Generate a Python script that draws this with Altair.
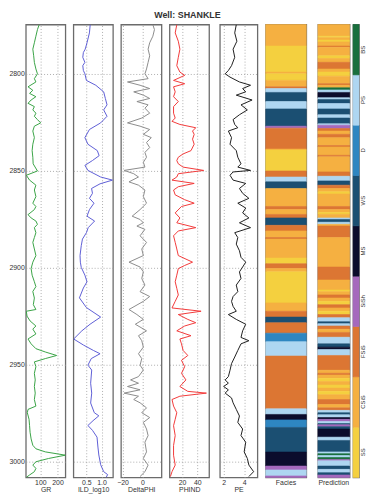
import altair as alt
import pandas as pd

TOP, BOT = 2774.6, 3008.1
H = 458
depth_ticks = [2800, 2850, 2900, 2950, 3000]

facies_labels = ['SS', 'CSiS', 'FSiS', 'SiSh', 'MS', 'WS', 'D', 'PS', 'BS']
facies_colors = ['#F4D03F', '#F5B041', '#DC7633', '#A569BD', '#0B0C2C',
                 '#1B4F72', '#2E86C1', '#AED6F1', '#196F3D']

gr_depth = [2774.7, 2777.2, 2780.6, 2784.0, 2787.3, 2790.7, 2794.1, 2797.5,
            2800.0, 2802.5, 2804.2, 2806.7, 2808.5, 2810.1, 2811.8, 2813.5, 2815.2, 2816.9,
            2818.6, 2820.3, 2821.9, 2823.6, 2825.3, 2827.0, 2829.5, 2832.9, 2836.3, 2839.6,
            2843.0, 2846.4, 2850.1, 2852.3, 2854.8, 2857.4, 2859.9, 2863.3, 2866.7, 2868.4,
            2870.0, 2872.6, 2874.3, 2875.9, 2877.6, 2879.3, 2881.9, 2884.4, 2886.9, 2890.3,
            2893.7, 2897.1, 2900.4, 2903.8, 2907.2, 2909.7, 2912.2, 2915.6, 2919.0, 2921.5,
            2922.4, 2924.9, 2927.4, 2930.0, 2931.6, 2934.1, 2936.7, 2939.2, 2941.7, 2943.4,
            2945.2, 2946.8, 2948.5, 2951.0, 2954.4, 2957.8, 2961.2, 2964.6, 2967.9, 2971.3,
            2973.0, 2974.7, 2978.1, 2981.4, 2984.8, 2988.2, 2991.5, 2993.3, 2994.9, 2996.6,
            2998.3, 3000.0, 3001.7, 3003.4, 3005.1, 3006.8, 3008.0]
gr_vals = [93, 83, 74, 65, 56, 61, 65, 74,
           83, 65, 74, 28, 56, 37, 74, 46, 28, 65,
           56, 74, 65, 83, 102, 65, 56, 65, 56, 52,
           56, 58, 83, 18, 37, 74, 65, 74, 56, 74,
           65, 28, 46, 74, 83, 65, 74, 65, 56, 65,
           74, 56, 46, 52, 65, 74, 56, 65, 59, 74,
           18, 22, 40, 74, 56, 74, 28, 46, 74, 129,
           195, 129, 65, 74, 65, 70, 65, 70, 65, 74,
           28, 24, 34, 37, 40, 46, 56, 74, 129, 246,
           148, 74, 56, 74, 65, 37, 18]

ild_depth = [2774.7, 2778.9, 2784.0, 2787.3, 2789.0, 2791.5, 2794.1, 2795.8, 2798.3, 2800.0,
             2803.4, 2805.9, 2809.3, 2812.7, 2816.0, 2818.6, 2821.9, 2825.3, 2828.7, 2832.9,
             2836.3, 2839.6, 2842.2, 2844.7, 2847.2, 2849.8, 2853.2, 2854.8, 2856.7, 2859.1,
             2861.6, 2864.2, 2866.7, 2870.0, 2873.4, 2875.9, 2879.3, 2881.9, 2885.2, 2888.6,
             2893.7, 2897.1, 2899.8, 2903.8, 2907.2, 2910.4, 2915.5, 2920.5, 2925.4, 2929.1,
             2932.5, 2936.7, 2939.8, 2942.6, 2944.3, 2946.8, 2950.2, 2952.7, 2959.5, 2964.6,
             2969.7, 2974.7, 2976.3, 2978.8, 2981.3, 2983.8, 2987.3, 2992.4, 2996.5, 3001.5,
             3005.1, 3006.6, 3008.1]
ild_vals = [0.625, 0.60, 0.52, 0.46, 0.40, 0.38, 0.45, 0.38, 0.40, 0.45,
            0.50, 0.81, 1.07, 1.125, 1.18, 1.07, 1.18, 0.97, 0.60, 0.45,
            0.55, 0.86, 0.92, 0.70, 0.45, 0.55, 0.97, 1.36, 0.95, 0.67,
            0.70, 0.60, 0.75, 0.60, 0.52, 0.77, 0.56, 0.50, 0.37, 0.33,
            0.29, 0.30, 0.33, 0.45, 0.52, 0.40, 0.27, 0.50, 0.97, 0.62,
            0.35, 0.08, 0.40, 0.73, 0.95, 0.66, 0.55, 0.675, 0.64, 0.675,
            0.64, 0.76, 0.91, 0.72, 0.55, 0.70, 0.85, 0.88, 0.91, 0.97,
            1.07, 1.20, 1.15]

dphi_depth = [2774.7, 2777.2, 2780.6, 2784.0, 2787.3, 2790.7, 2794.1, 2797.5, 2800.0, 2802.5,
              2804.2, 2805.9, 2807.6, 2809.3, 2811.0, 2812.7, 2814.3, 2816.0, 2817.7, 2820.3,
              2822.8, 2825.3, 2827.0, 2828.7, 2831.2, 2832.9, 2835.4, 2838.0, 2840.5, 2843.0,
              2845.6, 2848.1, 2849.8, 2851.5, 2853.2, 2855.7, 2857.4, 2859.9, 2863.3, 2866.7,
              2870.0, 2873.4, 2875.1, 2876.8, 2878.5, 2880.2, 2883.5, 2886.9, 2890.3, 2893.7,
              2897.1, 2899.6, 2902.1, 2905.5, 2908.9, 2912.3, 2914.8, 2917.3, 2921.5, 2924.1,
              2926.6, 2929.1, 2932.5, 2935.0, 2937.6, 2940.9, 2944.3, 2946.8, 2950.2, 2952.7,
              2956.1, 2957.8, 2959.5, 2961.2, 2962.9, 2964.6, 2966.2, 2967.9, 2969.6, 2972.2,
              2974.7, 2977.2, 2979.7, 2983.1, 2986.5, 2989.9, 2994.9, 2998.3, 3001.7, 3005.1,
              3007.6]
dphi_vals = [10.6, 12.2, 10.6, 7.4, 5.8, 7.4, 5.8, 4.2, 2.6, 5.8,
             -15.0, -2.3, 7.4, -8.7, 1.0, 7.4, -5.5, 5.8, 2.6, 7.4,
             -0.6, -15.0, -2.3, 7.4, 1.0, 9.0, 4.2, 7.4, 2.6, 4.2,
             1.0, 2.6, -18.4, -8.7, -3.9, -13.5, -3.9, 2.6, 1.0, 4.2,
             -2.3, -10.3, -2.3, 1.0, -5.5, 2.6, -2.3, 4.2, -0.6, 1.0,
             -13.5, -2.3, 1.0, -0.6, 2.6, -2.3, 7.4, 1.0, -13.5, -5.5,
             1.0, -7.1, 4.2, -3.9, -0.6, 1.0, -3.9, -0.6, -2.3, 1.0,
             -3.9, -11.9, -3.9, -15.0, -2.3, -18.4, -3.9, -8.7, -2.3, 4.2,
             -0.6, 7.4, 1.0, 4.2, 5.8, 2.6, 4.2, 1.0, 5.8, 2.6,
             -2.3]

phind_depth = [2774.7, 2778.9, 2783.2, 2787.3, 2791.5, 2795.8, 2799.1, 2800.8, 2803.4, 2805.1,
               2806.7, 2809.3, 2811.8, 2814.3, 2816.9, 2820.3, 2822.8, 2824.5, 2826.1, 2827.8,
               2829.5, 2831.2, 2833.7, 2836.3, 2839.6, 2841.3, 2843.0, 2844.7, 2846.4, 2848.1,
               2849.8, 2851.5, 2853.2, 2854.8, 2856.5, 2858.2, 2859.9, 2862.4, 2864.9, 2866.7,
               2868.4, 2871.7, 2874.3, 2876.8, 2879.3, 2881.0, 2883.5, 2886.9, 2890.3, 2893.7,
               2897.1, 2898.8, 2900.4, 2903.8, 2907.2, 2910.6, 2914.0, 2917.3, 2920.7, 2922.4,
               2924.1, 2926.6, 2928.3, 2930.0, 2932.5, 2935.0, 2936.7, 2939.2, 2942.6, 2945.2,
               2947.7, 2951.0, 2954.4, 2957.8, 2961.2, 2963.7, 2964.6, 2966.2, 2967.9, 2971.3,
               2974.7, 2978.1, 2981.4, 2986.5, 2991.6, 2996.6, 3001.7, 3005.1, 3007.6]
phind_vals = [13, 10.9, 15, 17.1, 15, 13, 17.1, 23.4, 8.75, 23.4,
              8.75, 10.9, 8.75, 15, 8.75, 8.75, 10.9, 6.7, 17.1, 38,
              33.75, 35.9, 33.75, 35.9, 31.7, 21.3, 15, 13, 15, 21.3,
              48.4, 15, 13, 6.7, 35.9, 15, 8.75, 10.9, 23.4, 35.9,
              19.2, 10.9, 17.1, 13, 38, 15, 8.75, 10.9, 13, 15,
              33.75, 23.4, 15, 13, 10.9, 13, 15, 10.9, 6.7, 45,
              15, 27.5, 38, 23.4, 13, 31.7, 17.1, 19.2, 21.3, 27.5,
              19.2, 23.4, 19.2, 25, 17.1, 27.5, 52, 17.1, 6.7, 8.75,
              13, 10.9, 8.75, 10.9, 8.75, 8.75, 10.9, 6.7, 4.6]

pe_depth = [2774.7, 2778.9, 2783.2, 2787.3, 2791.5, 2795.8, 2798.3, 2800.0, 2801.7, 2804.2,
            2805.9, 2807.6, 2809.3, 2811.0, 2813.5, 2816.0, 2818.6, 2821.1, 2823.6, 2826.1,
            2827.8, 2829.5, 2832.9, 2836.3, 2839.6, 2843.0, 2846.4, 2848.1, 2849.8, 2850.6,
            2852.3, 2854.8, 2856.5, 2859.1, 2861.6, 2864.2, 2866.7, 2869.2, 2871.7, 2874.3,
            2876.8, 2879.3, 2881.9, 2884.4, 2887.8, 2891.2, 2894.6, 2897.1, 2899.6, 2902.1,
            2905.5, 2908.9, 2912.3, 2914.8, 2917.3, 2919.9, 2922.4, 2924.1, 2926.6, 2929.1,
            2932.5, 2935.9, 2937.6, 2939.2, 2942.6, 2946.0, 2949.4, 2952.8, 2956.1, 2957.8,
            2959.5, 2961.2, 2962.9, 2964.6, 2967.1, 2969.6, 2973.0, 2976.4, 2979.7, 2983.1,
            2986.5, 2989.9, 2994.9, 2998.3, 3001.7, 3005.1, 3007.6]
pe_vals = [3.23, 3.08, 3.29, 2.92, 3.08, 2.77, 2.46, 2.15, 2.62, 3.54,
           4.62, 3.85, 4.15, 3.23, 4.77, 3.69, 4.31, 3.54, 2.92, 3.08,
           3.38, 2.46, 2.77, 2.62, 3.23, 3.38, 3.69, 3.38, 4.62, 2.92,
           2.62, 2.92, 4.15, 3.54, 3.85, 4.46, 3.38, 4.15, 3.85, 4.46,
           3.54, 4.62, 3.08, 3.38, 3.23, 3.54, 3.69, 4.15, 3.85, 3.54,
           3.69, 3.23, 3.38, 2.92, 2.77, 2.92, 3.23, 2.46, 3.23, 4.15,
           3.85, 3.69, 4.46, 3.69, 3.38, 3.08, 2.77, 2.62, 2.46, 2.15,
           2.46, 2.0, 2.46, 2.15, 2.77, 2.92, 3.23, 3.54, 3.38, 3.85,
           3.69, 4.15, 4.0, 4.31, 4.46, 4.92, 4.46]

facies_top = [2774.6, 2785.7, 2799.1, 2800.0, 2803.4, 2806.7, 2807.6, 2809.6, 2814.3, 2818.1,
              2827.0, 2828.0, 2838.8, 2839.3, 2850.1, 2853.2, 2855.7, 2859.1, 2868.4, 2870.0,
              2872.5, 2874.3, 2878.1, 2881.0, 2884.4, 2885.2, 2895.0, 2897.9, 2900.4, 2902.1,
              2918.1, 2922.4, 2925.4, 2928.3, 2933.7, 2938.1, 2945.5, 2972.7, 2975.6, 2978.4,
              2982.3, 2995.0, 3002.2, 3004.2, 3007.3]
facies_code = ['CSiS', 'SS', 'CSiS', 'SS', 'CSiS', 'FSiS', 'PS', 'WS', 'PS', 'WS',
               'SiSh', 'FSiS', 'CSiS', 'SS', 'FSiS', 'PS', 'WS', 'CSiS', 'FSiS', 'CSiS',
               'FSiS', 'WS', 'FSiS', 'CSiS', 'FSiS', 'CSiS', 'SS', 'FSiS', 'CSiS', 'SS',
               'CSiS', 'FSiS', 'WS', 'FSiS', 'D', 'PS', 'FSiS', 'PS', 'MS', 'D',
               'WS', 'MS', 'SiSh', 'PS', 'SiSh']

pred_top = [2774.6, 2780.6, 2781.4, 2782.6, 2783.6, 2785.7, 2786.3, 2790.7, 2792.1, 2794.1,
            2797.5, 2799.1, 2801.2, 2805.1, 2805.9, 2807.2, 2808.3, 2809.6, 2812.3, 2813.3,
            2815.3, 2818.1, 2821.1, 2822.8, 2825.8, 2826.5, 2828.2, 2829.5, 2831.2, 2832.9,
            2837.0, 2837.7, 2842.0, 2842.8, 2850.6, 2852.8, 2855.2, 2857.4, 2859.1, 2860.8,
            2861.9, 2868.4, 2870.0, 2871.4, 2872.4, 2874.3, 2875.1, 2876.5, 2877.6, 2878.5,
            2884.4, 2899.6, 2906.3, 2911.4, 2912.3, 2914.0, 2915.6, 2917.3, 2919.0, 2920.7,
            2922.4, 2924.1, 2925.7, 2927.8, 2928.8, 2930.0, 2931.7, 2933.3, 2935.8, 2939.2,
            2940.9, 2942.1, 2945.2, 2952.8, 2954.4, 2955.3, 2957.0, 2958.6, 2960.4, 2962.0,
            2963.7, 2965.4, 2967.9, 2970.5, 2972.2, 2973.5, 2974.7, 2975.8, 2977.2, 2978.1,
            2979.2, 2980.3, 2980.9, 2981.9, 2983.1, 2987.3, 2989.0, 2994.9, 2995.8, 2996.8,
            2997.8, 2998.8, 2999.5, 3002.2, 3003.9, 3005.6, 3006.8]
pred_code = ['CSiS', 'SS', 'CSiS', 'SS', 'CSiS', 'FSiS', 'CSiS', 'SS', 'CSiS', 'FSiS',
             'CSiS', 'SS', 'CSiS', 'FSiS', 'CSiS', 'BS', 'PS', 'MS', 'PS', 'WS',
             'PS', 'WS', 'PS', 'WS', 'PS', 'SiSh', 'FSiS', 'CSiS', 'FSiS', 'CSiS',
             'FSiS', 'CSiS', 'FSiS', 'CSiS', 'FSiS', 'PS', 'WS', 'FSiS', 'CSiS', 'SS',
             'CSiS', 'FSiS', 'CSiS', 'SS', 'CSiS', 'PS', 'WS', 'PS', 'CSiS', 'FSiS',
             'CSiS', 'FSiS', 'CSiS', 'SS', 'CSiS', 'FSiS', 'CSiS', 'SS', 'FSiS', 'CSiS',
             'SS', 'FSiS', 'PS', 'WS', 'PS', 'FSiS', 'CSiS', 'FSiS', 'PS', 'WS',
             'MS', 'PS', 'FSiS', 'CSiS', 'FSiS', 'CSiS', 'SS', 'CSiS', 'SS', 'CSiS',
             'SS', 'CSiS', 'FSiS', 'CSiS', 'FSiS', 'PS', 'WS', 'PS', 'MS', 'SiSh',
             'PS', 'WS', 'SiSh', 'WS', 'MS', 'PS', 'WS', 'PS', 'BS', 'PS',
             'BS', 'SiSh', 'PS', 'WS', 'PS', 'WS', 'SiSh']

FONT = 'Liberation Sans'
FS = 7
yscale = alt.Scale(domain=[TOP, BOT], reverse=True, nice=False, zero=False)
fac_scale = alt.Scale(domain=facies_labels, range=facies_colors)


def log_panel(depths, vals, dom, ticks, title, color, width, first=False, fmt=None):
    df = pd.DataFrame({'depth': depths, 'val': vals})
    yax = dict(values=depth_ticks, grid=True, labels=first, ticks=False, domain=False,
               title=None, labelPadding=1.5, format='d')
    xax = dict(values=ticks, grid=True, title=title, ticks=False, domain=False,
               labelPadding=1.0, titlePadding=0.5)
    if fmt:
        xax['format'] = fmt
    return alt.Chart(df).mark_line(color=color, strokeWidth=1, clip=True).encode(
        x=alt.X('val:Q', scale=alt.Scale(domain=dom, nice=False, zero=False),
                axis=alt.Axis(**xax)),
        y=alt.Y('depth:Q', scale=yscale, axis=alt.Axis(**yax)),
        order=alt.Order('depth:Q'),
    ).properties(width=width, height=H)


def facies_panel(tops, codes, width, title):
    bots = tops[1:] + [BOT]
    df = pd.DataFrame({'top': tops, 'bot': bots, 'fac': codes})
    return alt.Chart(df, title=alt.Title(title, orient='bottom', anchor='middle', fontSize=FS,
                                         fontWeight='normal', offset=1.5, color='#333',
                                         font=FONT)).mark_rect(strokeWidth=0.6).encode(
        x=alt.value(0), x2=alt.value('width'),
        y=alt.Y('top:Q', scale=yscale, axis=None), y2='bot:Q',
        color=alt.Color('fac:N', scale=fac_scale, legend=None),
        stroke=alt.Stroke('fac:N', scale=fac_scale, legend=None),
    ).properties(width=width, height=H)


gr = log_panel(gr_depth, gr_vals, [15, 246], [100, 200], 'GR', '#3aa346', 40, first=True)
ild = log_panel(ild_depth, ild_vals, [0.07, 1.375], [0.5, 1.0], 'ILD_log10', '#5e5ed6', 40, fmt='.1f')
dphi = log_panel(dphi_depth, dphi_vals, [-21.6, 19.3], [-20, 0], 'DeltaPHI', '#8c8c8c', 41)
phind = log_panel(phind_depth, phind_vals, [3.4, 55.5], [20, 40], 'PHIND', '#f23a3a', 40)
pe = log_panel(pe_depth, pe_vals, [1.63, 5.29], [2, 4], 'PE', '#1e1e1e', 38)

fac = facies_panel(facies_top, facies_code, 41, 'Facies')
pred = facies_panel(pred_top, pred_code, 32, 'Prediction')

cb = alt.Chart(pd.DataFrame({'fac': facies_labels})).mark_rect(strokeWidth=0.6).encode(
    x=alt.value(0), x2=alt.value('width'),
    y=alt.Y('fac:N', sort=facies_labels[::-1],
            scale=alt.Scale(paddingInner=0, paddingOuter=0),
            axis=alt.Axis(orient='right', title=None, ticks=False, domain=False,
                          labelAngle=270, labelAlign='center', labelBaseline='top',
                          labelPadding=1.0, labelFontSize=6)),
    color=alt.Color('fac:N', scale=fac_scale, legend=None),
    stroke=alt.Stroke('fac:N', scale=fac_scale, legend=None),
).properties(width=6, height=H)

logs = alt.hconcat(gr, ild, dphi, phind, spacing=8.1, bounds='flush')
mid = alt.hconcat(pe, fac, spacing=8.4, bounds='flush')
predcb = alt.hconcat(pred, cb, spacing=3.5, bounds='flush')

chart = alt.hconcat(
    logs, mid, predcb, spacing=9.2, padding=0,
    title=alt.Title('Well: SHANKLE', fontSize=9, fontWeight='bold', anchor='middle',
                    offset=3.5, color='#333', font=FONT),
).configure_axis(
    labelFont=FONT, titleFont=FONT, labelFontSize=FS, titleFontSize=FS,
    labelColor='#333', titleColor='#333', titleFontWeight='normal',
    gridDash=[1, 2], gridColor='#9a9a9a', gridWidth=0.8,
).configure_view(
    stroke='#6b6b6b', strokeWidth=1.3,
)

chart.save('out.html', embed_options={'renderer': 'svg', 'actions': False})
